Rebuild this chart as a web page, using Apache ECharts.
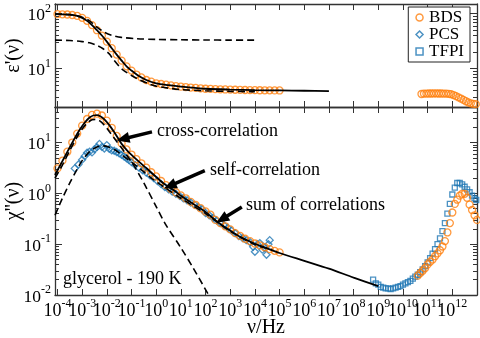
<!DOCTYPE html>
<html><head><meta charset="utf-8">
<script src="https://cdn.jsdelivr.net/npm/echarts@6/dist/echarts.min.js"></script>
<style>html,body{margin:0;padding:0;background:#fff}#c{width:480px;height:338px}</style>
</head><body><div id="c"></div>
<script>
// ---------- data (frequencies given as log10(nu/Hz)) ----------
const xTickExp = [-4,-3,-2,-1,0,1,2,3,4,5,6,7,8,9,10,11,12];
const epsTickVals = [10, 100];
const chiTickVals = [0.01, 0.1, 1, 10];

// top panel: epsilon'
const epsBdsLogF = [-4.0,-3.8,-3.6,-3.4,-3.2,-3.0,-2.8,-2.6,-2.4,-2.2,-2.0,-1.8,-1.6,-1.4,-1.2,-1.0,-0.8,-0.6,-0.4,-0.2,0.0,0.2,0.4,0.6,0.8,1.0,1.2,1.4,1.6,1.8,2.0,2.2,2.4,2.6,2.8,3.0,3.2,3.4,3.6,3.8,4.0,4.2,4.4,4.6,4.8,5.0];
const epsBds = [98,97.5,96.5,94.5,91,84,74,62,50,40,31,23.5,18,14,11,9.2,7.8,6.9,6.2,5.8,5.4,5.25,5.1,4.95,4.8,4.7,4.62,4.52,4.45,4.38,4.3,4.27,4.23,4.2,4.17,4.15,4.12,4.1,4.08,4.06,4.05,4.04,4.03,4.02,4.01,4.0];
const epsBdsHiLogF = [10.75,10.85,10.95,11.05,11.15,11.25,11.35,11.45,11.55,11.65,11.75,11.85,11.95,12.05,12.15,12.25,12.35,12.45,12.55,12.65,12.75,12.85,12.95];
const epsBdsHi = [3.45,3.5,3.5,3.52,3.52,3.53,3.53,3.52,3.52,3.5,3.5,3.48,3.42,3.3,3.15,3.0,2.85,2.7,2.55,2.42,2.33,2.28,2.25];
const epsFitLogF = [-4.1,-3.8,-3.5,-3.2,-3.0,-2.8,-2.6,-2.4,-2.2,-2.0,-1.8,-1.6,-1.4,-1.2,-1.0,-0.7,-0.4,0,0.5,1,1.5,2,3,4,5,6,7];
const epsFit = [98,97.5,96,91,84,74,62,50,40,31,23.5,18,14,11,9.2,7.3,6.2,5.4,5.0,4.7,4.5,4.3,4.15,4.05,4.0,3.95,3.9];
const epsCrossLogF = [-4.1,-3.5,-3.0,-2.7,-2.4,-2.1,-1.8,-1.4,-0.8,0,1,2,3,4];
const epsCross = [98,96,86,74,57,46,40.5,37,35,34,33.5,33.2,33,33];
const epsSelfLogF = [-4.1,-3.5,-3.0,-2.7,-2.4,-2.15,-1.9,-1.75,-1.5,-1.35,-1.0,-0.66,-0.3,0,0.5,1,2,3,4];
const epsSelf = [33,32.5,31,29.5,26.5,23,18.5,15,11,9.5,7.5,6.2,5.3,4.8,4.4,4.15,3.95,3.85,3.8];

// bottom panel: chi''
const chiBdsLogF = [-4.0,-3.8,-3.6,-3.4,-3.2,-3.0,-2.8,-2.6,-2.4,-2.2,-2.0,-1.8,-1.6,-1.4,-1.2,-1.0,-0.8,-0.6,-0.4,-0.2,0.0,0.2,0.4,0.6,0.8,1.0,1.2,1.4,1.6,1.8,2.0,2.2,2.4,2.6,2.8,3.0,3.2,3.4,3.6,3.8,4.0,4.2,4.4,4.6,4.8,5.0];
const chiBds = [3.1,4.4,6.6,10,15,21.5,29,35,37,34,27,19.5,13.5,9.6,7.3,5.8,4.7,3.9,3.2,2.6,2.15,1.75,1.45,1.22,1.05,0.91,0.8,0.68,0.59,0.51,0.44,0.38,0.3,0.26,0.225,0.195,0.165,0.145,0.128,0.115,0.103,0.095,0.087,0.08,0.074,0.069];
const chiBdsHiLogF = [10.6,10.7,10.8,10.9,11.0,11.1,11.2,11.3,11.4,11.5,11.6,11.7,11.8,11.9,12.0,12.1,12.2,12.3,12.4,12.5,12.6,12.7,12.8,12.9,13.0];
const chiBdsHi = [0.024,0.027,0.03,0.034,0.04,0.045,0.05,0.058,0.066,0.076,0.09,0.115,0.17,0.26,0.42,0.62,0.75,0.9,0.98,0.98,0.82,0.6,0.47,0.37,0.3];
const chiPcsLogF = [-3.3,-3.15,-3.0,-2.9,-2.8,-2.7,-2.6,-2.5,-2.4,-2.3,-2.2,-2.1,-2.0,-1.9,-1.8,-1.7,-1.6,-1.5,-1.4,-1.3,-1.2,-1.1,-1.0,-0.85,-0.7,-0.55,-0.4,-0.25,-0.1,0.05,0.2,0.35,0.5,0.65,0.8,0.95,1.1,1.25,1.4,1.55,1.7,1.85,2.0,2.15,2.3,2.45,2.6,2.75,2.9,3.05,3.2,3.35,3.5,3.65,3.8,3.93,4.0,4.1,4.2,4.3,4.4,4.47,4.55,4.6];
const chiPcs = [3.1,3.7,4.6,5.4,6.3,6.6,6.4,7.4,8.1,9.4,8.2,7.6,8.9,7.5,7.0,6.9,6.5,6.1,5.7,5.3,4.9,4.5,4.1,3.6,3.2,2.85,2.55,2.25,2.0,1.75,1.52,1.33,1.2,1.08,0.98,0.89,0.8,0.73,0.66,0.6,0.54,0.49,0.41,0.37,0.33,0.29,0.26,0.235,0.21,0.185,0.165,0.145,0.132,0.12,0.11,0.089,0.071,0.1,0.105,0.078,0.085,0.062,0.1,0.12];
const chiTfpiLogF = [8.79,8.9,9.0,9.1,9.2,9.3,9.4,9.5,9.6,9.7,9.8,9.9,10.0,10.1,10.2,10.3,10.4,10.5,10.6,10.7,10.8,10.9,11.0,11.1,11.2,11.3,11.4,11.5,11.6,11.7,11.8,11.9,12.0,12.1,12.2,12.3,12.4,12.5,12.6,12.7,12.8,12.9,12.97];
const chiTfpi = [0.02,0.017,0.016,0.0145,0.014,0.0135,0.0135,0.013,0.0135,0.014,0.0145,0.015,0.016,0.017,0.018,0.019,0.021,0.023,0.025,0.028,0.032,0.037,0.044,0.053,0.065,0.08,0.1,0.13,0.18,0.26,0.4,0.62,0.95,1.3,1.6,1.6,1.5,1.35,1.2,1.05,0.9,0.8,0.74];
const chiSumLogF = [-4.1,-3.9,-3.7,-3.5,-3.3,-3.1,-2.9,-2.7,-2.55,-2.4,-2.25,-2.1,-1.9,-1.7,-1.55,-1.4,-1.2,-1.0,-0.7,-0.4,0,0.35,0.7,1.0,1.5,2.0,2.5,3.0,3.4,4.0,4.5,5.0,6.0,7.0,8.0,9.0];
const chiSum = [2.3,3.5,5.3,8.1,12.2,17.8,24.5,31,34,34.5,32.5,28.5,22,16,12.3,9.4,7.2,5.7,4.2,3.15,2.1,1.5,1.16,0.9,0.62,0.43,0.27,0.185,0.14,0.102,0.083,0.067,0.047,0.033,0.022,0.015];
const chiCrossLogF = [-4.1,-3.8,-3.5,-3.2,-3.0,-2.8,-2.6,-2.45,-2.3,-2.1,-1.9,-1.6,-1.4,-1.2,-0.9,-0.5,0,0.35,1.0,1.5,2.15];
const chiCross = [2.0,3.6,7.0,13,18.5,24,28,28.5,27,22,16.5,10.5,7.8,5.7,3.5,1.6,0.55,0.26,0.085,0.034,0.0095];
const chiSelfLogF = [-4.1,-3.8,-3.5,-3.2,-3.0,-2.7,-2.4,-2.15,-1.9,-1.6,-1.3,-1.0,-0.6,-0.2,0.35,1.0,2.0,3.0,4.0,4.7];
const chiSelf = [0.37,0.8,1.6,3.0,4.4,6.6,8.2,8.6,8.1,6.8,5.3,4.1,2.9,2.0,1.3,0.8,0.4,0.18,0.098,0.078];

// annotation arrows: [logF from, log chi from, logF to, log chi to]
const arrowLog = [[-0.17,1.21,-1.35,1.07],[1.97,0.447,0.55,0.146],[3.47,-0.268,2.66,-0.51]];
const annTexts = ['cross-correlation','self-correlation','sum of correlations','glycerol - 190 K'];

// ---------- chart ----------
const ORANGE = '#ff7f0e', BLUE = '#1f77b4', FRAME = '#333', SERIF = 'Liberation Serif';
const XMIN = Math.pow(10,-4.1), XMAX = 1e13;
const pts = (lf, v) => lf.map((f,i) => [Math.pow(10,f), v[i]]);
const xTicks = xTickExp.map(e => Math.pow(10,e));
const xTicksEven = xTickExp.filter(e => e % 2 === 0).map(e => Math.pow(10,e));
const xTicksOdd = xTickExp.filter(e => e % 2 !== 0).map(e => Math.pow(10,e));
function minors(min, max) {
  const out = [];
  for (let e = Math.floor(Math.log10(min)); e <= Math.ceil(Math.log10(max)); e++)
    for (let k = 2; k <= 9; k++) { const v = k*Math.pow(10,e); if (v > min*1.001 && v < max*0.999) out.push(v); }
  return out;
}
const supFmt = v => '{b|10}{s|' + Math.round(Math.log10(v)) + '}';
const richX = {
  b:{fontFamily:SERIF,fontSize:18,color:'#000',lineHeight:22,verticalAlign:'bottom'},
  s:{fontFamily:SERIF,fontSize:12,color:'#000',lineHeight:11,verticalAlign:'top'}
};
const richY = {
  b:{fontFamily:SERIF,fontSize:17.5,color:'#000',lineHeight:22,verticalAlign:'bottom'},
  s:{fontFamily:SERIF,fontSize:12,color:'#000',lineHeight:11,verticalAlign:'top'}
};
function xAx(gi, pos, opts) {
  const o = Object.assign({labels:false, ticks:xTicks, labelVals:xTicks, line:true, tick:true, name:''}, opts||{});
  return {type:'log', logBase:10, gridIndex:gi, position:pos, min:XMIN, max:XMAX,
    name:o.name, nameLocation:'middle', nameGap:23, nameMoveOverlap:false,
    nameTextStyle:{fontFamily:SERIF,fontSize:20,color:'#000'},
    axisLine:{show:o.line,onZero:false,lineStyle:{color:FRAME,width:1.3}},
    axisTick:{show:o.tick,inside:true,length:6,customValues:o.ticks,lineStyle:{color:FRAME,width:1}},
    axisLabel:{show:o.labels,customValues:o.labelVals,margin:3,formatter:supFmt,rich:richX,showMinLabel:true,showMaxLabel:true,hideOverlap:false},
    splitLine:{show:false}, minorTick:{show:false}};
}
function yAx(gi, pos, min, max, ticks, len, major, labels, name) {
  return {type:'log', logBase:10, gridIndex:gi, position:pos, min:min, max:max,
    name:name||'', nameLocation:'middle', nameGap:31, nameMoveOverlap:false,
    nameTextStyle:{fontFamily:SERIF,fontSize:20,color:'#000'},
    axisLine:{show:major,onZero:false,lineStyle:{color:FRAME,width:1.3}},
    axisTick:{show:true,inside:true,length:len,customValues:ticks,lineStyle:{color:FRAME,width:1}},
    axisLabel:{show:labels,customValues:ticks,margin:4,formatter:supFmt,rich:richY,showMinLabel:true,showMaxLabel:true,hideOverlap:false},
    splitLine:{show:false}, minorTick:{show:false}};
}
const EMIN=2, EMAX=150, CMIN=0.01, CMAX=50;
const ANNFONT = '18px "Liberation Serif"';
const circleStyle = {color:'rgba(0,0,0,0)',borderColor:ORANGE,borderWidth:1.3};
const blueStyle = {color:'rgba(0,0,0,0)',borderColor:BLUE,borderWidth:1.3};
const option = {
  animation:false,
  grid:[{left:55,right:3,top:4,height:103,outerBoundsMode:'none',containLabel:false},
        {left:55,right:3,top:107,height:188,outerBoundsMode:'none',containLabel:false}],
  xAxis:[
    xAx(0,'bottom'), xAx(0,'top'),
    xAx(1,'bottom',{labels:true,labelVals:xTicksEven,name:'ν/Hz'}), xAx(1,'top'),
    xAx(1,'bottom',{labels:true,labelVals:xTicksOdd,line:false,tick:false})
  ],
  yAxis:[
    yAx(0,'left',EMIN,EMAX,epsTickVals,7,true,true,"ε'(ν)"),
    yAx(0,'left',EMIN,EMAX,minors(EMIN,EMAX),4,false,false),
    yAx(0,'right',EMIN,EMAX,epsTickVals,7,true,false),
    yAx(0,'right',EMIN,EMAX,minors(EMIN,EMAX),4,false,false),
    yAx(1,'left',CMIN,CMAX,chiTickVals,7,true,true,"χ''(ν)"),
    yAx(1,'left',CMIN,CMAX,minors(CMIN,CMAX),4,false,false),
    yAx(1,'right',CMIN,CMAX,chiTickVals,7,true,false),
    yAx(1,'right',CMIN,CMAX,minors(CMIN,CMAX),4,false,false)
  ],
  legend:{data:[
      {name:'BDS',icon:'circle',itemStyle:{color:'rgba(0,0,0,0)',borderColor:ORANGE,borderWidth:1.5}},
      {name:'PCS',icon:'diamond',itemStyle:{color:'rgba(0,0,0,0)',borderColor:BLUE,borderWidth:1.5}},
      {name:'TFPI',icon:'rect',itemStyle:{color:'rgba(0,0,0,0)',borderColor:BLUE,borderWidth:1.5}}],
    orient:'vertical', right:10, top:7, backgroundColor:'#fff', borderColor:'#222', borderWidth:1,
    padding:[2,6,2,7], itemWidth:7, itemHeight:7, itemGap:0, selectedMode:false,
    textStyle:{fontFamily:SERIF,fontSize:17,color:'#000',lineHeight:16,padding:[0,0,0,1]}},
  graphic:[
    {type:'text',x:157,y:131,style:{text:annTexts[0],font:ANNFONT,fill:'#000',verticalAlign:'middle'}},
    {type:'text',x:210,y:170,style:{text:annTexts[1],font:ANNFONT,fill:'#000',verticalAlign:'middle'}},
    {type:'text',x:246,y:205,style:{text:annTexts[2],font:ANNFONT,fill:'#000',verticalAlign:'middle'}},
    {type:'text',x:63,y:279,style:{text:annTexts[3],font:ANNFONT,fill:'#000',verticalAlign:'middle'}}
  ],
  series:[
    {name:'BDS',type:'scatter',xAxisIndex:0,yAxisIndex:0,data:pts(epsBdsLogF,epsBds),symbol:'circle',symbolSize:7,itemStyle:circleStyle,silent:true,z:2},
    {name:'BDS',type:'scatter',xAxisIndex:0,yAxisIndex:0,data:pts(epsBdsHiLogF,epsBdsHi),symbol:'circle',symbolSize:7,itemStyle:circleStyle,silent:true,z:2},
    {name:'fitEps',type:'line',xAxisIndex:0,yAxisIndex:0,data:pts(epsFitLogF,epsFit),symbol:'none',smooth:0.3,lineStyle:{color:'#000',width:1.8},silent:true,z:5},
    {name:'crossEps',type:'line',xAxisIndex:0,yAxisIndex:0,data:pts(epsCrossLogF,epsCross),symbol:'none',smooth:0.3,lineStyle:{color:'#000',width:1.6,type:[7,4]},silent:true,z:5},
    {name:'selfEps',type:'line',xAxisIndex:0,yAxisIndex:0,data:pts(epsSelfLogF,epsSelf),symbol:'none',smooth:0.3,lineStyle:{color:'#000',width:1.6,type:[7,4]},silent:true,z:5},

    {name:'TFPI',type:'scatter',xAxisIndex:2,yAxisIndex:4,data:pts(chiTfpiLogF,chiTfpi),symbol:'rect',symbolSize:5,itemStyle:blueStyle,silent:true,z:2},
    {name:'PCS',type:'scatter',xAxisIndex:2,yAxisIndex:4,data:pts(chiPcsLogF,chiPcs),symbol:'diamond',symbolSize:7,itemStyle:blueStyle,silent:true,z:2},
    {name:'BDS',type:'scatter',xAxisIndex:2,yAxisIndex:4,data:pts(chiBdsLogF,chiBds),symbol:'circle',symbolSize:7,itemStyle:circleStyle,silent:true,z:3},
    {name:'BDS',type:'scatter',xAxisIndex:2,yAxisIndex:4,data:pts(chiBdsHiLogF,chiBdsHi),symbol:'circle',symbolSize:7,itemStyle:circleStyle,silent:true,z:3},
    {name:'sumChi',type:'line',xAxisIndex:2,yAxisIndex:4,data:pts(chiSumLogF,chiSum),symbol:'none',smooth:0.3,lineStyle:{color:'#000',width:1.8},silent:true,z:5,
      markLine:{silent:true,symbol:['none','triangle'],symbolSize:[11,13],label:{show:false},lineStyle:{color:'#000',width:3.5,type:'solid'},
        data:arrowLog.map(a=>[{coord:[Math.pow(10,a[0]),Math.pow(10,a[1])]},{coord:[Math.pow(10,a[2]),Math.pow(10,a[3])]}])}},
    {name:'crossChi',type:'line',xAxisIndex:2,yAxisIndex:4,data:pts(chiCrossLogF,chiCross),symbol:'none',smooth:0.3,lineStyle:{color:'#000',width:1.6,type:[7,4]},silent:true,z:5},
    {name:'selfChi',type:'line',xAxisIndex:2,yAxisIndex:4,data:pts(chiSelfLogF,chiSelf),symbol:'none',smooth:0.3,lineStyle:{color:'#000',width:1.6,type:[7,4]},silent:true,z:5}
  ]
};
const chart = echarts.init(document.getElementById('c'), null, {renderer:'canvas'});
chart.setOption(option);
</script></body></html>
